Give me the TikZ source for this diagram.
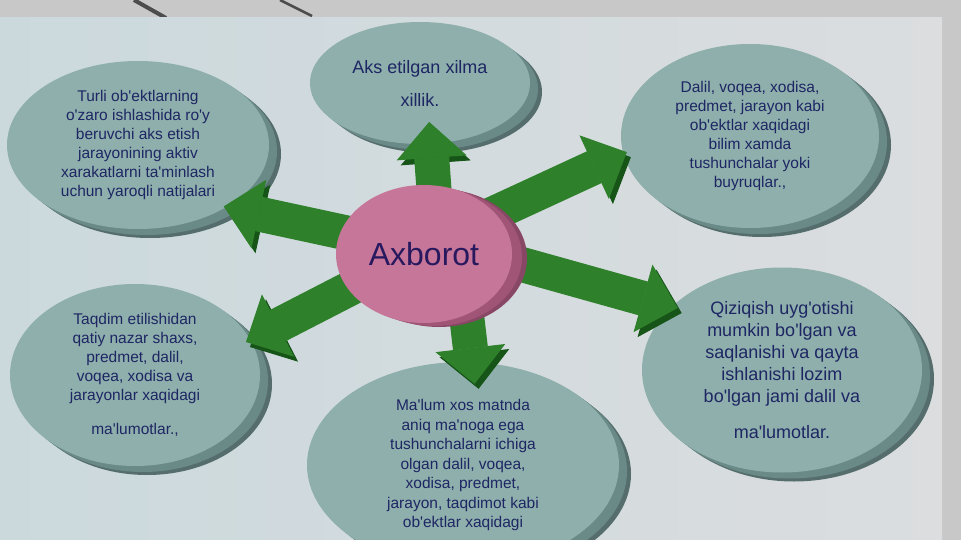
\documentclass[tikz,border=0pt]{standalone}
\usepackage{fontspec}
\setmainfont{Liberation Sans}[Ligatures=TeXOff]
\usetikzlibrary{arrows.meta, shapes.geometric, shadows}
\definecolor{discFace}{RGB}{142,175,171}
\definecolor{discSide}{RGB}{106,138,136}
\definecolor{hubFace}{RGB}{198,118,152}
\definecolor{hubSide}{RGB}{160,84,118}
\definecolor{flowGreen}{RGB}{46,128,42}
\definecolor{flowDark}{RGB}{22,84,24}
\definecolor{inkBlue}{RGB}{30,38,100}
\definecolor{hubInk}{RGB}{40,25,95}
\definecolor{slideL}{RGB}{203,217,221}
\definecolor{slideR}{RGB}{219,221,223}
\definecolor{frameGray}{RGB}{200,200,200}
\pgfdeclarelayer{back}
\pgfdeclarelayer{mid}
\pgfsetlayers{back,mid,main}

\begin{document}
\begin{tikzpicture}[
  x=1pt, y=-1pt,
  disc/.style={ellipse, fill=discFace, inner sep=-6pt, align=center, text=inkBlue,
               font=\fontsize{15.5}{19}\selectfont,
               drop shadow={shadow xshift=12pt, shadow yshift=-9pt, opacity=1, fill=discSide!80!black},
               drop shadow={shadow xshift=8pt, shadow yshift=-6pt, opacity=1, fill=discSide},
               drop shadow={shadow xshift=4pt, shadow yshift=-3pt, opacity=1, fill=discSide}},
  hub/.style={ellipse, fill=hubFace, inner sep=0pt, text=hubInk,
              font=\fontsize{32}{36}\selectfont,
              drop shadow={shadow xshift=15pt, shadow yshift=-4pt, opacity=1, fill=hubSide!85!black},
              drop shadow={shadow xshift=10pt, shadow yshift=-3pt, opacity=1, fill=hubSide},
              drop shadow={shadow xshift=5pt, shadow yshift=-1.5pt, opacity=1, fill=hubSide}},
  flow/.style={line width=35pt, flowGreen, shorten <=-15pt,
               -{Triangle[length=36pt, width=70pt, line width=1pt]},
               preaction={draw=flowDark, transform canvas={xshift=4pt, yshift=-5pt}}}
]
\useasboundingbox (0,0) rectangle (961,540);

\begin{pgfonlayer}{back}
\fill[frameGray] (0,0) rectangle (961,540);
\draw[gray!60!black, line width=4pt] (134,0) -- (166,18);
\draw[gray!60!black, line width=2.5pt] (280,0) -- (312,16);
\fill[left color=slideL, right color=slideR] (0,18) rectangle (942,540);

\node[disc, minimum width=262pt, minimum height=168pt] (tl) at (138,145)
  {Turli ob'ektlarning\\o'zaro ishlashida ro'y\\beruvchi aks etish\\jarayonining aktiv\\xarakatlarni ta'minlash\\uchun yaroqli natijalari};
\node[disc, minimum width=220pt, minimum height=122pt, font=\fontsize{18}{22}\selectfont] (tc) at (420,83)
  {Aks etilgan xilma\\[11pt]xillik.};
\node[disc, minimum width=258pt, minimum height=184pt] (tr) at (750,136)
  {Dalil, voqea, xodisa,\\predmet, jarayon kabi\\ob'ektlar xaqidagi\\bilim xamda\\tushunchalar yoki\\buyruqlar.,};
\node[disc, minimum width=250pt, minimum height=182pt] (bl) at (135,375)
  {Taqdim etilishidan\\qatiy nazar shaxs,\\predmet, dalil,\\voqea, xodisa va\\jarayonlar xaqidagi\\[15pt]ma'lumotlar.,};
\node[disc, minimum width=312pt, minimum height=206pt, font=\fontsize{15.5}{19.5}\selectfont] (bc) at (463,465)
  {Ma'lum xos matnda\\aniq ma'noga ega\\tushunchalarni ichiga\\olgan dalil, voqea,\\xodisa, predmet,\\jarayon, taqdimot kabi\\ob'ektlar xaqidagi};
\node[disc, minimum width=280pt, minimum height=205pt, font=\fontsize{18}{22}\selectfont] (br) at (782,370)
  {Qiziqish uyg'otishi\\mumkin bo'lgan va\\saqlanishi va qayta\\ishlanishi lozim\\bo'lgan jami dalil va\\[14pt]ma'lumotlar.};
\end{pgfonlayer}

\node[hub, minimum width=176pt, minimum height=138pt] (ax) at (424,254) {Axborot};

\begin{pgfonlayer}{mid}
\draw[flow, shorten >=-22pt] (ax.82) -- (tc.-80);
\draw[flow, shorten >=-4pt] (ax.30) -- (tr.188);
\draw[flow, shorten >=-6pt] (ax.-5) -- (br.150);
\draw[flow, shorten >=-22pt] (ax.-55) -- (bc.85);
\draw[flow, shorten >=-5pt] (ax.205) -- (bl.17);
\draw[flow, shorten >=-3pt] (ax.165) -- (tl.-35);
\end{pgfonlayer}
\end{tikzpicture}
\end{document}
